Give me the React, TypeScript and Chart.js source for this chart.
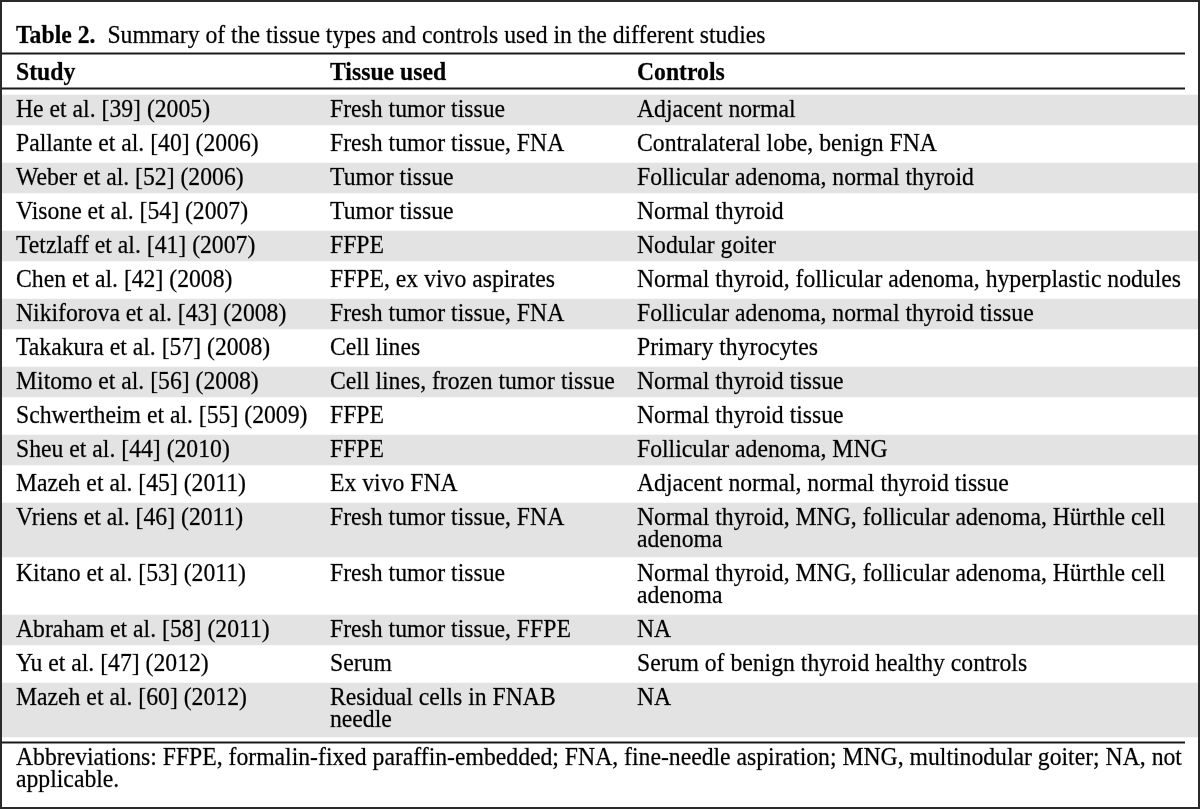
import React, { useEffect, useRef } from "react";
import { Chart, registerables } from "chart.js";

Chart.register(...registerables);

const titleLabel = "Table 2.";
const titleText = "Summary of the tissue types and controls used in the different studies";
const headers = ["Study", "Tissue used", "Controls"];

const studies = [
  "He et al. [39] (2005)",
  "Pallante et al. [40] (2006)",
  "Weber et al. [52] (2006)",
  "Visone et al. [54] (2007)",
  "Tetzlaff et al. [41] (2007)",
  "Chen et al. [42] (2008)",
  "Nikiforova et al. [43] (2008)",
  "Takakura et al. [57] (2008)",
  "Mitomo et al. [56] (2008)",
  "Schwertheim et al. [55] (2009)",
  "Sheu et al. [44] (2010)",
  "Mazeh et al. [45] (2011)",
  "Vriens et al. [46] (2011)",
  "Kitano et al. [53] (2011)",
  "Abraham et al. [58] (2011)",
  "Yu et al. [47] (2012)",
  "Mazeh et al. [60] (2012)",
];

const tissues = [
  "Fresh tumor tissue",
  "Fresh tumor tissue, FNA",
  "Tumor tissue",
  "Tumor tissue",
  "FFPE",
  "FFPE, ex vivo aspirates",
  "Fresh tumor tissue, FNA",
  "Cell lines",
  "Cell lines, frozen tumor tissue",
  "FFPE",
  "FFPE",
  "Ex vivo FNA",
  "Fresh tumor tissue, FNA",
  "Fresh tumor tissue",
  "Fresh tumor tissue, FFPE",
  "Serum",
  "Residual cells in FNAB\nneedle",
];

const controls = [
  "Adjacent normal",
  "Contralateral lobe, benign FNA",
  "Follicular adenoma, normal thyroid",
  "Normal thyroid",
  "Nodular goiter",
  "Normal thyroid, follicular adenoma, hyperplastic nodules",
  "Follicular adenoma, normal thyroid tissue",
  "Primary thyrocytes",
  "Normal thyroid tissue",
  "Normal thyroid tissue",
  "Follicular adenoma, MNG",
  "Adjacent normal, normal thyroid tissue",
  "Normal thyroid, MNG, follicular adenoma, Hürthle cell\nadenoma",
  "Normal thyroid, MNG, follicular adenoma, Hürthle cell\nadenoma",
  "NA",
  "Serum of benign thyroid healthy controls",
  "NA",
];

const footnoteLines = [
  "Abbreviations: FFPE, formalin-fixed paraffin-embedded; FNA, fine-needle aspiration; MNG, multinodular goiter; NA, not",
  "applicable.",
];

// ---- layout (style) constants ----
const W = 1200;
const H = 809;
const FONT = '"Liberation Serif", "Times New Roman", Tinos, "Nimbus Roman", Times, serif';
const FS = 23.7;
const SCALE_Y = 1.06;
const COL_X = [16, 330, 637];
const FIRST_ROW_CENTER = 107;
const ROW_PITCH = 34;
const LINE_PITCH = 22;
const GRAY = "#e3e3e3";

const rowLines = studies.map((_, i) =>
  Math.max(studies[i].split("\n").length, tissues[i].split("\n").length, controls[i].split("\n").length)
);
const rowCenters: number[] = [];
{
  let c = FIRST_ROW_CENTER;
  rowLines.forEach((n) => {
    rowCenters.push(c);
    c += ROW_PITCH + LINE_PITCH * (n - 1);
  });
}
const bandRanges = rowCenters.map((c, i) => [c - 12, c + 18 + 24 * (rowLines[i] - 1)]);

function drawText(ctx: CanvasRenderingContext2D, text: string, x: number, y: number) {
  ctx.save();
  ctx.translate(x, y);
  ctx.scale(1, SCALE_Y);
  ctx.fillText(text, 0, 0);
  ctx.strokeText(text, 0, 0);
  ctx.restore();
}

export default function App() {
  const ref = useRef<HTMLCanvasElement | null>(null);
  useEffect(() => {
    document.body.style.margin = "0";
    const canvas = ref.current!;
    const datasets = bandRanges
      .map((r, i) => ({ r, i }))
      .filter(({ i }) => i % 2 === 0)
      .map(({ r, i }) => ({
        label: studies[i],
        data: [r],
        backgroundColor: GRAY,
        borderWidth: 0,
        grouped: false,
        categoryPercentage: 1,
        barPercentage: 1,
      }));

    const tablePlugin = {
      id: "tableText",
      beforeDraw(chart: any) {
        const ctx = chart.ctx;
        ctx.save();
        ctx.fillStyle = "#fff";
        ctx.fillRect(0, 0, W, H);
        ctx.restore();
      },
      afterDatasetsDraw(chart: any) {
        const ctx = chart.ctx as CanvasRenderingContext2D;
        const y = chart.scales.y;
        ctx.save();
        ctx.fillStyle = "#000";
        ctx.strokeStyle = "rgba(0,0,0,0.55)";
        ctx.lineWidth = 0.4;
        ctx.textBaseline = "alphabetic";
        ctx.textAlign = "left";
        // title
        ctx.font = `bold ${FS}px ${FONT}`;
        drawText(ctx, titleLabel, COL_X[0], y.getPixelForValue(43));
        const tw = ctx.measureText(titleLabel).width;
        ctx.font = `${FS}px ${FONT}`;
        drawText(ctx, titleText, COL_X[0] + tw + 12, y.getPixelForValue(43));
        // header
        ctx.font = `bold ${FS}px ${FONT}`;
        headers.forEach((h, k) => drawText(ctx, h, COL_X[k], y.getPixelForValue(80)));
        // rows
        ctx.font = `${FS}px ${FONT}`;
        const cols = [studies, tissues, controls];
        rowCenters.forEach((c, i) => {
          cols.forEach((col, k) => {
            col[i].split("\n").forEach((line, j) => {
              drawText(ctx, line, COL_X[k], y.getPixelForValue(c + 10 + LINE_PITCH * j));
            });
          });
        });
        // footnote
        footnoteLines.forEach((line, j) => {
          drawText(ctx, line, COL_X[0], y.getPixelForValue(765 + 22 * j));
        });
        // rules
        ctx.fillStyle = "#1a1a1a";
        [52.5, 87.5, 741.5].forEach((v) => {
          ctx.fillRect(0, y.getPixelForValue(v), 1185, 2);
        });
        // border
        ctx.strokeStyle = "#2a2a2a";
        ctx.lineWidth = 2;
        ctx.strokeRect(1, 1, W - 2, H - 2);
        ctx.restore();
      },
    };

    const chart = new Chart(canvas, {
      type: "bar",
      data: { labels: ["table"], datasets },
      options: {
        responsive: false,
        maintainAspectRatio: false,
        animation: false,
        devicePixelRatio: 1,
        layout: { padding: { left: 2, right: 2, top: 0, bottom: 0 } },
        plugins: { legend: { display: false }, tooltip: { enabled: false } },
        scales: {
          x: { display: false },
          y: { display: false, min: 0, max: H, reverse: true },
        },
      },
      plugins: [tablePlugin],
    } as any);
    return () => {
      chart.destroy();
    };
  }, []);
  return (
    <div style={{ width: W, height: H }}>
      <canvas ref={ref} width={W} height={H} style={{ display: "block" }} />
    </div>
  );
}
